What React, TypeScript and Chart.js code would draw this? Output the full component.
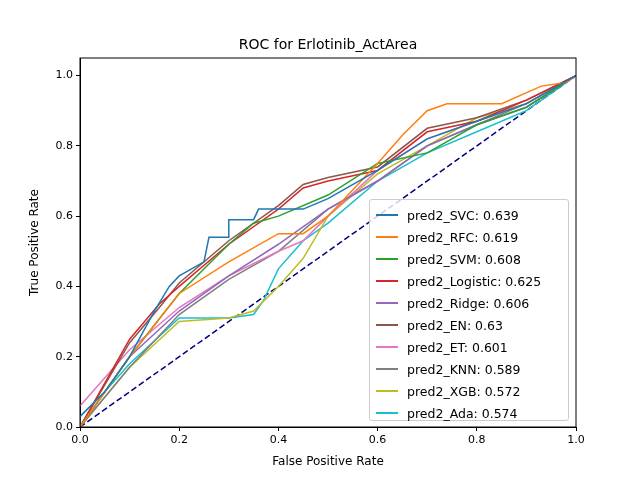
import React, { useEffect, useRef } from "react";
import { Chart, registerables } from "chart.js";
Chart.register(...registerables);

const names = ["pred2_SVC", "pred2_RFC", "pred2_SVM", "pred2_Logistic", "pred2_Ridge", "pred2_EN", "pred2_ET", "pred2_KNN", "pred2_XGB", "pred2_Ada"];
const aucs = ["0.639", "0.619", "0.608", "0.625", "0.606", "0.63", "0.601", "0.589", "0.572", "0.574"];
const colors = ["#1f77b4", "#ff7f0e", "#2ca02c", "#d62728", "#9467bd", "#8c564b", "#e377c2", "#7f7f7f", "#bcbd22", "#17becf"];

const svcX = [0, 0, 0.05, 0.1, 0.15, 0.18, 0.2, 0.25, 0.26, 0.3, 0.3, 0.35, 0.36, 0.45, 0.5, 0.6, 0.7, 0.8, 0.9, 1];
const svcY = [0, 0.03, 0.1, 0.2, 0.33, 0.4, 0.43, 0.47, 0.54, 0.54, 0.59, 0.59, 0.62, 0.62, 0.65, 0.73, 0.82, 0.87, 0.92, 1];
const rfcX = [0, 0.1, 0.2, 0.3, 0.4, 0.45, 0.5, 0.6, 0.65, 0.7, 0.74, 0.85, 0.93, 0.98, 1];
const rfcY = [0, 0.2, 0.38, 0.47, 0.55, 0.55, 0.6, 0.75, 0.83, 0.9, 0.92, 0.92, 0.97, 0.98, 1];
const svmX = [0, 0.1, 0.2, 0.3, 0.35, 0.4, 0.5, 0.6, 0.7, 0.8, 0.9, 1];
const svmY = [0, 0.2, 0.38, 0.52, 0.58, 0.6, 0.66, 0.75, 0.78, 0.86, 0.91, 1];
const logX = [0, 0.1, 0.16, 0.2, 0.3, 0.4, 0.45, 0.5, 0.6, 0.7, 0.8, 0.9, 1];
const logY = [0, 0.25, 0.35, 0.4, 0.52, 0.62, 0.68, 0.7, 0.73, 0.84, 0.87, 0.93, 1];
const ridgeX = [0, 0.1, 0.2, 0.3, 0.4, 0.5, 0.6, 0.7, 0.8, 0.9, 1];
const ridgeY = [0, 0.2, 0.33, 0.43, 0.52, 0.62, 0.7, 0.8, 0.86, 0.91, 1];
const enX = [0, 0.1, 0.16, 0.2, 0.3, 0.4, 0.45, 0.5, 0.6, 0.7, 0.8, 0.9, 1];
const enY = [0, 0.24, 0.34, 0.41, 0.53, 0.63, 0.69, 0.71, 0.74, 0.85, 0.88, 0.93, 1];
const etX = [0, 0.1, 0.2, 0.3, 0.4, 0.45, 0.5, 0.6, 0.7, 0.8, 0.9, 1];
const etY = [0.06, 0.22, 0.34, 0.43, 0.5, 0.53, 0.6, 0.73, 0.82, 0.87, 0.92, 1];
const knnX = [0, 0.1, 0.2, 0.3, 0.4, 0.5, 0.6, 0.7, 0.8, 0.9, 1];
const knnY = [0, 0.17, 0.32, 0.42, 0.5, 0.62, 0.7, 0.8, 0.86, 0.92, 1];
const xgbX = [0, 0.1, 0.2, 0.3, 0.35, 0.4, 0.45, 0.5, 0.6, 0.7, 0.8, 0.9, 1];
const xgbY = [0, 0.17, 0.3, 0.31, 0.33, 0.4, 0.48, 0.6, 0.72, 0.8, 0.88, 0.92, 1];
const adaX = [0, 0.05, 0.1, 0.2, 0.3, 0.35, 0.37, 0.4, 0.45, 0.5, 0.6, 0.7, 0.8, 0.9, 1];
const adaY = [0.03, 0.1, 0.18, 0.31, 0.31, 0.32, 0.36, 0.45, 0.53, 0.58, 0.7, 0.78, 0.84, 0.9, 1];

const xs = [svcX, rfcX, svmX, logX, ridgeX, enX, etX, knnX, xgbX, adaX];
const ys = [svcY, rfcY, svmY, logY, ridgeY, enY, etY, knnY, xgbY, adaY];

const FONT = "'DejaVu Sans', sans-serif";

export default function App() {
  const ref = useRef<HTMLCanvasElement>(null);
  useEffect(() => {
    document.body.style.margin = "0";
    const datasets: any[] = names.map((n, i) => ({
      label: n + ": " + aucs[i],
      data: xs[i].map((x, j) => ({ x, y: ys[i][j] })),
      borderColor: colors[i],
      borderWidth: 1.5,
      pointRadius: 0,
      fill: false,
    }));
    datasets.push({
      label: "diag",
      data: [{ x: 0, y: 0 }, { x: 1, y: 1 }],
      borderColor: "#000080",
      borderWidth: 1.5,
      borderDash: [6, 3],
      pointRadius: 0,
    });
    const frame = {
      id: "frame",
      afterDraw(c: any) {
        const { ctx, chartArea: a } = c;
        ctx.save();
        ctx.strokeStyle = "#000";
        ctx.lineWidth = 1;
        ctx.strokeRect(a.left, a.top, a.right - a.left, a.bottom - a.top);
        ctx.fillStyle = "#000";
        ctx.font = "14px " + FONT;
        ctx.textAlign = "center";
        ctx.textBaseline = "bottom";
        ctx.fillText("ROC for Erlotinib_ActArea", (a.left + a.right) / 2, a.top - 6);
        ctx.font = "12px " + FONT;
        ctx.textBaseline = "middle";
        ctx.fillText("False Positive Rate", (a.left + a.right) / 2, 462);
        ctx.translate(35, (a.top + a.bottom) / 2);
        ctx.rotate(-Math.PI / 2);
        ctx.fillText("True Positive Rate", 0, 0);
        ctx.restore();
      },
    };
    const tickCommon = { color: "#000", font: { family: FONT, size: 11 } };
    const chart = new Chart(ref.current!, {
      type: "line",
      data: { datasets },
      options: {
        animation: false,
        responsive: false,
        layout: { padding: { top: 58, right: 64, left: 0, bottom: 0 } },
        plugins: { legend: { display: false }, tooltip: { enabled: false } },
        scales: {
          x: {
            type: "linear", min: 0, max: 1,
            ticks: { ...tickCommon, stepSize: 0.2, callback: (v: any) => Number(v).toFixed(1) },
            grid: { drawOnChartArea: false, color: "#000", tickLength: 4 },
            border: { color: "#000" },
            afterFit: (s: any) => { s.height = 53; },
          },
          y: {
            type: "linear", min: 0, max: 1.05,
            ticks: { ...tickCommon, callback: (v: any) => Number(v).toFixed(1) },
            afterBuildTicks: (s: any) => { s.ticks = [0, 0.2, 0.4, 0.6, 0.8, 1].map((v) => ({ value: v })); },
            grid: { drawOnChartArea: false, color: "#000", tickLength: 4 },
            border: { color: "#000" },
            afterFit: (s: any) => { s.width = 80; },
          },
        },
      } as any,
      plugins: [frame],
    });
    return () => chart.destroy();
  }, []);
  return (
    <div style={{ position: "relative", width: 640, height: 480, background: "#fff" }}>
      <canvas ref={ref} width={640} height={480} />
      <div style={{ position: "absolute", left: 369, top: 199, width: 200, height: 222, border: "1px solid #ccc", borderRadius: 3, background: "rgba(255,255,255,0.8)", fontFamily: FONT, fontSize: 12.5, padding: "4px 0 0 6px", boxSizing: "border-box" }}>
        {names.map((n, i) => (
          <div key={n} style={{ display: "flex", alignItems: "center", height: 22 }}>
            <span style={{ display: "inline-block", width: 22, height: 2, background: colors[i], marginRight: 9 }} />
            <span>{n + ": " + aucs[i]}</span>
          </div>
        ))}
      </div>
    </div>
  );
}
